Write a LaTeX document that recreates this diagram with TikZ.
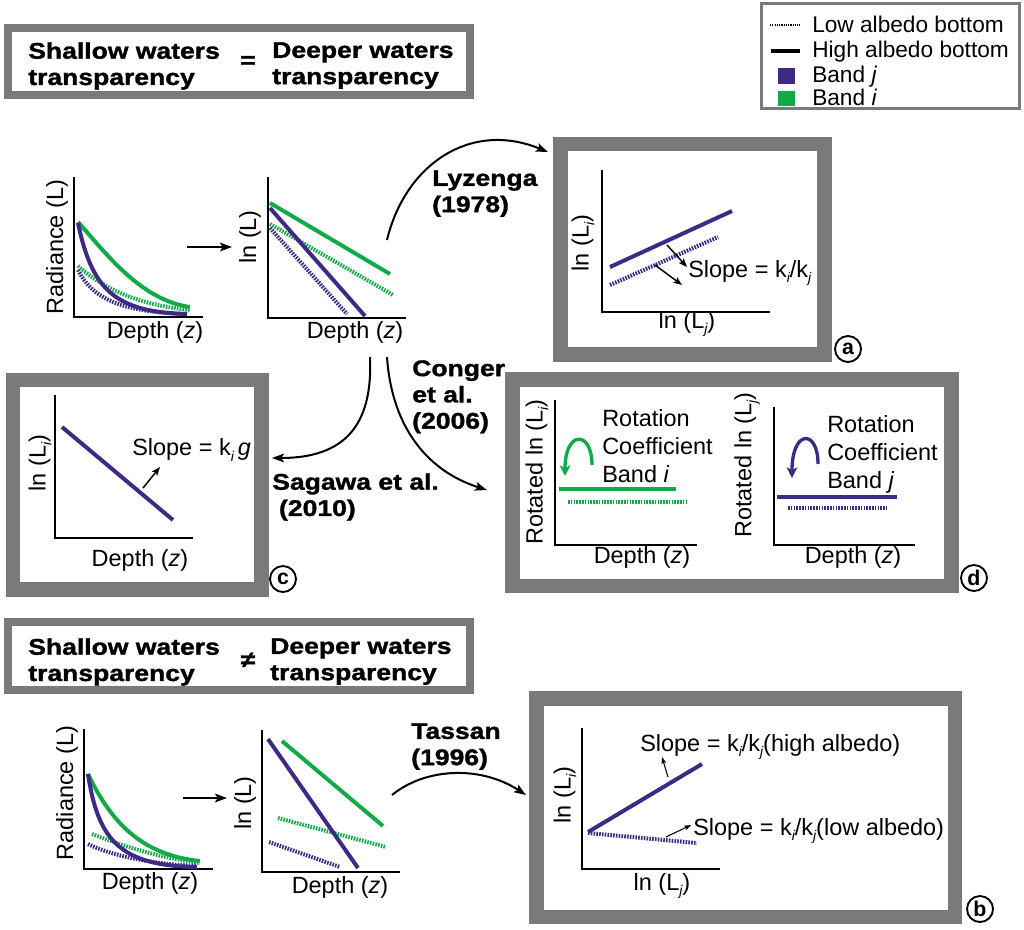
\documentclass[tikz,border=0pt]{standalone}
\usepackage{fontspec}
\setmainfont{Liberation Sans}
\newfontfamily\hfont[FakeStretch=1.17,FakeBold=1.4]{Liberation Sans Bold}
\usetikzlibrary{arrows.meta}
\definecolor{boxgray}{RGB}{122,122,122}
\definecolor{bandj}{RGB}{62,42,132}
\definecolor{bandi}{RGB}{18,170,72}
\newcommand\lsub[1]{\raisebox{-0.45ex}{\fontsize{10.5}{10.5}\selectfont\itshape #1}}
\tikzset{
  hframe/.style={draw=boxgray, line width=6pt, fill=white},
  pframe/.style={draw=boxgray, line width=11pt, fill=white},
  ax/.style={line width=1.5pt, black},
  solj/.style={line width=3pt, bandj},
  dotj/.style={line width=3pt, bandj, dash pattern=on 1.2pt off 0.9pt},
  soli/.style={line width=3pt, bandi},
  doti/.style={line width=3pt, bandi, dash pattern=on 1.2pt off 0.9pt},
  lbl/.style={font=\fontsize{17.6}{21}\selectfont, inner sep=0pt},
  leg/.style={font=\fontsize{17}{20}\selectfont, inner sep=0pt},
  bold/.style={font=\hfont\fontsize{17}{19.7}\selectfont, inner sep=0pt, align=left},
  arr/.style={line width=1.5pt, -{Stealth[length=9pt,width=6.5pt,inset=2pt]}},
  sarr/.style={line width=1.1pt, -{Stealth[length=6.5pt,width=5pt,inset=1.5pt]}},
  tarr/.style={line width=0.8pt, -{Stealth[length=5pt,width=3.5pt,inset=1pt]}},
  rarr/.style={line width=2.5pt, -{Stealth[length=8pt,width=8pt,inset=2pt]}},
  circ/.style={circle, draw, line width=1.4pt, inner sep=0pt, minimum size=19.5pt,
    font=\bfseries\fontsize{16}{16}\selectfont}
}
\begin{document}
\begin{tikzpicture}[x=0.75pt,y=-0.75pt]
\useasboundingbox (0,0) rectangle (1024,929);

% ---------- frames ----------
\draw[hframe] (8,28) rectangle (470,95);
\draw[hframe] (8,622) rectangle (470,690);
\draw[pframe] (560.5,144) rectangle (824.5,354.5);
\draw[pframe] (13,380) rectangle (261.5,589.5);
\draw[pframe] (512.5,379.5) rectangle (951.5,586);
\draw[pframe] (536.5,698.5) rectangle (955,917);
\draw[draw=boxgray, line width=2.25pt, fill=white] (761,3) rectangle (1019,108);

% ---------- headers ----------
\node[bold, anchor=north west] (h1l) at (28,42) {Shallow waters\\transparency};
\node[bold] (h1eq) at (248,62) {=};
\node[bold, anchor=north west] (h1r) at (272,42) {Deeper waters\\transparency};
\node[bold, anchor=north west] (h2l) at (28,638) {Shallow waters\\transparency};
\node[bold] (h2ne) at (248,660) {≠};
\node[bold, anchor=north west] (h2r) at (270,638) {Deeper waters\\transparency};

% ---------- legend ----------
\coordinate (ld1) at (770,25); \coordinate (ld2) at (800,25);
\draw[line width=1.6pt, dash pattern=on 0.9pt off 0.8pt] (ld1) -- (ld2);
\coordinate (ls1) at (771,51); \coordinate (ls2) at (800,51);
\draw[line width=2.6pt] (ls1) -- (ls2);
\fill[bandj] (778,68) rectangle (795,84);
\fill[bandi] (778,91) rectangle (795,106);
\node[leg, anchor=base west] (leg1) at (812,32) {Low albedo bottom};
\node[leg, anchor=base west] (leg2) at (812,57) {High albedo bottom};
\node[leg, anchor=base west] (leg3) at (812,82) {Band \textit{j}};
\node[leg, anchor=base west] (leg4) at (812,105) {Band \textit{i}};

% ---------- top plot 1: radiance ----------
\draw[ax] (74,177) -- (74,317) -- (203,317);
\draw[doti] (78,266) .. controls (105,290) and (140,305) .. (190,310);
\draw[dotj] (78,270) .. controls (92,298) and (120,312) .. (187,314);
\draw[soli] (78,222) .. controls (105,252) and (140,300) .. (190,307);
\draw[solj] (78,223) .. controls (92,290) and (115,312) .. (187,314);
\node[lbl, rotate=90] (p1y) at (57,247) {Radiance (L)};
\node[lbl] (p1x) at (155,332) {Depth (\textit{z})};

\coordinate (a12s) at (187,247); \coordinate (a12e) at (232,247);
\draw[arr] (a12s) -- (a12e);

% ---------- top plot 2: ln ----------
\draw[ax] (268,177) -- (268,318) -- (406,318);
\draw[doti] (270,224) -- (393,295);
\draw[dotj] (270,228) -- (347,314);
\draw[soli] (270,203) -- (390,274);
\draw[solj] (270,208) -- (365,316);
\node[lbl, rotate=90] (p2y) at (250,237) {ln (L)};
\node[lbl] (p2x) at (355,332) {Depth (\textit{z})};

% ---------- method arrows ----------
\coordinate (lyS) at (387,240); \coordinate (lyE) at (548,152);
\draw[arr] (lyS) .. controls (405,165) and (470,120) .. (lyE);
\node[bold, anchor=north west] (lyz) at (432,170) {Lyzenga\\(1978)};

\coordinate (saS) at (370,357); \coordinate (saE) at (272,458);
\draw[arr] (saS) .. controls (373,425) and (345,458) .. (saE);
\node[bold, anchor=north west] (sag) at (272,473) {Sagawa et al.\\\hspace*{0.3em}(2010)};

\coordinate (coS) at (387,357); \coordinate (coE) at (487,490);
\draw[arr] (coS) .. controls (392,430) and (430,472) .. (coE);
\node[bold, anchor=north west] (con) at (412,360) {Conger\\et al.\\(2006)};

% ---------- box a ----------
\draw[ax] (602,170) -- (602,312) -- (770,312);
\draw[solj] (610,267) -- (732,211);
\draw[dotj] (610,285) -- (718,237);
\coordinate (aa1) at (667,245); \coordinate (aa2) at (687,267);
\draw[sarr] (aa1) -- (aa2);
\coordinate (ab1) at (655,265); \coordinate (ab2) at (682,285);
\draw[sarr] (ab1) -- (ab2);
\node[lbl, anchor=west] (aslope) at (688,273) {Slope = k\lsub{i}/k\lsub{j}};
\node[lbl, rotate=90] (ay) at (583,243) {ln (L\lsub{i})};
\node[lbl] (ax) at (687,324) {ln (L\lsub{j})};
\node[circ] (la) at (848,349) {a};

% ---------- box c ----------
\draw[ax] (55,395) -- (55,538) -- (193,538);
\draw[solj] (62,427) -- (173,520);
\coordinate (ca1) at (143,488); \coordinate (ca2) at (160,467);
\draw[sarr] (ca1) -- (ca2);
\node[lbl, anchor=west] (cslope) at (132,450) {Slope = k\lsub{i}\,\textit{g}};
\node[lbl, rotate=90] (cy) at (40,463) {ln (L\lsub{i})};
\node[lbl] (cx) at (140,560) {Depth (\textit{z})};
\node[circ] (lc) at (283,579) {c};

% ---------- box d ----------
\draw[ax] (555,400) -- (555,545) -- (697,545);
\draw[soli] (559,489) -- (676,489);
\draw[doti] (568,502) -- (687,502);
\draw[rarr, bandi] (592,465) .. controls (592,430) and (565,430) .. (565,476);
\node[lbl, anchor=north west, align=left] (dti) at (602,409) {Rotation\\Coefficient\\Band \textit{i}};
\node[lbl, rotate=90] (dyi) at (537,472) {Rotated ln (L\lsub{i})};
\node[lbl] (dxi) at (642,557) {Depth (\textit{z})};

\draw[ax] (774,407) -- (774,545) -- (915,545);
\draw[solj] (777,497) -- (897,497);
\draw[dotj] (788,508) -- (887,508);
\draw[rarr, bandj] (818,464) .. controls (818,429) and (792,429) .. (792,478);
\node[lbl, anchor=north west, align=left] (dtj) at (827,415) {Rotation\\Coefficient\\Band \textit{j}};
\node[lbl, rotate=90] (dyj) at (747,465) {Rotated ln (L\lsub{j})};
\node[lbl] (dxj) at (853,557) {Depth (\textit{z})};
\node[circ] (ld) at (974,578) {d};

% ---------- bottom plot 1 ----------
\draw[ax] (84,729) -- (84,869) -- (213,869);
\draw[doti] (92,834) .. controls (120,845) and (160,858) .. (200,863);
\draw[dotj] (88,844) .. controls (110,855) and (150,864) .. (197,866);
\draw[soli] (88,774) .. controls (110,820) and (140,855) .. (200,861);
\draw[solj] (88,774) .. controls (98,840) and (120,866) .. (197,867);
\node[lbl, rotate=90] (q1y) at (67,793) {Radiance (L)};
\node[lbl] (q1x) at (150,883) {Depth (\textit{z})};

\coordinate (b12s) at (183,798); \coordinate (b12e) at (227,798);
\draw[arr] (b12s) -- (b12e);

% ---------- bottom plot 2 ----------
\draw[ax] (262,730) -- (262,872) -- (400,872);
\draw[doti] (278,818) -- (386,847);
\draw[dotj] (269,842) -- (340,867);
\draw[soli] (282,741) -- (383,826);
\draw[solj] (268,739) -- (358,868);
\node[lbl, rotate=90] (q2y) at (245,803) {ln (L)};
\node[lbl] (q2x) at (340,887) {Depth (\textit{z})};

\coordinate (taS) at (392,795); \coordinate (taE) at (526,795);
\draw[arr] (taS) .. controls (425,768) and (480,765) .. (taE);
\node[bold, anchor=north west] (tas) at (411,723) {Tassan\\(1996)};

% ---------- box b ----------
\draw[ax] (582,728) -- (582,869) -- (720,869);
\draw[solj] (588,832) -- (702,764);
\draw[dotj] (588,833) -- (697,843);
\coordinate (bh1) at (668,777); \coordinate (bh2) at (662,757);
\draw[tarr] (bh1) -- (bh2);
\coordinate (bl1) at (666,837); \coordinate (bl2) at (691,825);
\draw[tarr] (bl1) -- (bl2);
\node[lbl, anchor=west] (bhs) at (640,747) {Slope = k\lsub{i}/k\lsub{j}(high albedo)};
\node[lbl, anchor=west] (bls) at (693,831) {Slope = k\lsub{i}/k\lsub{j}(low albedo)};
\node[lbl, rotate=90] (by) at (565,795) {ln (L\lsub{i})};
\node[lbl] (bx) at (662,886) {ln (L\lsub{j})};
\node[circ] (lb) at (980,909) {b};
\end{tikzpicture}
\end{document}
